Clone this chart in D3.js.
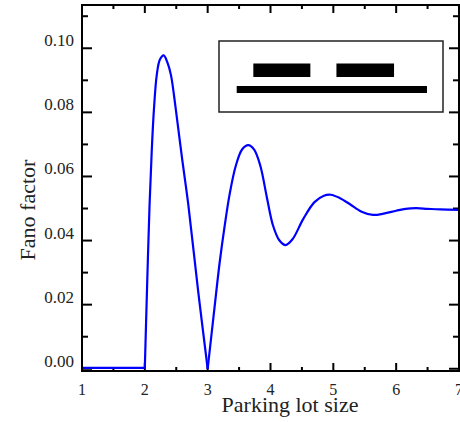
<!DOCTYPE html>
<html>
<head>
<meta charset="utf-8">
<script src="https://cdn.jsdelivr.net/npm/d3@7"></script>
<style>
  body { margin: 0; background: #fff; }
  text { font-family: "Liberation Serif", "Times New Roman", serif; fill: #222; }
</style>
</head>
<body>
<svg id="chart" width="460" height="422"></svg>
<script>
// values
var lotSize = [1, 1.5, 2.0,
    2.0, 2.035, 2.075, 2.11, 2.145, 2.19, 2.24, 2.30, 2.36, 2.415, 2.49, 2.59, 2.69, 2.85, 3.0,
    3.0, 3.1, 3.19, 3.27, 3.35, 3.45, 3.55, 3.645, 3.74, 3.84, 3.94, 4.04, 4.14, 4.24, 4.35,
    4.52, 4.7, 4.85, 4.96, 5.1, 5.26, 5.45, 5.63, 5.8, 6.0, 6.15, 6.32, 6.5, 6.7, 7.0];
var fano = [0.0003, 0.0003, 0.0003,
    0.0003, 0.025, 0.051, 0.068, 0.081, 0.0917, 0.0965, 0.0978, 0.0955, 0.0917, 0.0814, 0.066, 0.0515, 0.024, 0.0,
    0.0, 0.0175, 0.033, 0.0445, 0.0545, 0.0635, 0.0685, 0.0698, 0.0684, 0.0632, 0.0537, 0.0447, 0.0401, 0.0386, 0.0404,
    0.0467, 0.052, 0.054, 0.0543, 0.0533, 0.0514, 0.049, 0.048, 0.0484, 0.0493, 0.0499, 0.0501, 0.0499, 0.0497, 0.0496];
// the curve has kinks here, so each piece is drawn on its own
var pieceStarts = [0, 3, 18];
var pieceEnds = [3, 18, 48];

var xMajor = [1, 2, 3, 4, 5, 6, 7];
var xMinor = [1.5, 2.5, 3.5, 4.5, 5.5, 6.5];
var yMajor = [0, 0.02, 0.04, 0.06, 0.08, 0.10];
var yMinor = [0.01, 0.03, 0.05, 0.07, 0.09, 0.11];

// inset sketch: lot and two parked cars, in car lengths
var insetLot = [0, 3.32];
var insetCars = [[0.29, 1.285], [1.74, 2.745]];

function fanoChart() {
    var svg = d3.select("#chart");
    var left = 82, right = 459, top = 5, bottom = 371;

    var x = d3.scaleLinear().domain([1, 7]).range([left, right]);
    var y = d3.scaleLinear().domain([-0.0007, 0.1135]).range([bottom, top]);

    // ticks, all pointing inward on the four sides
    function xticks(vals, len) {
        var g = svg.append("g").attr("stroke", "#000").attr("stroke-width", 2);
        vals.forEach(function(v) {
            g.append("line").attr("x1", x(v)).attr("x2", x(v)).attr("y1", bottom).attr("y2", bottom - len);
            g.append("line").attr("x1", x(v)).attr("x2", x(v)).attr("y1", top).attr("y2", top + len);
        });
    }
    xticks(xMajor.slice(1, -1), 8);
    xticks(xMinor, 4);

    function yticks(vals, len) {
        var g = svg.append("g").attr("stroke", "#000").attr("stroke-width", 2);
        vals.forEach(function(v) {
            g.append("line").attr("x1", left).attr("x2", left + len).attr("y1", y(v)).attr("y2", y(v));
            g.append("line").attr("x1", right).attr("x2", right - len).attr("y1", y(v)).attr("y2", y(v));
        });
    }
    yticks(yMajor, 10);
    yticks(yMinor, 6);

    // curve
    var line = d3.line()
        .x(function(i) { return x(lotSize[i]); })
        .y(function(i) { return y(fano[i]); })
        .curve(d3.curveCatmullRom.alpha(0.5));

    pieceStarts.forEach(function(s, k) {
        svg.append("path")
            .datum(d3.range(s, pieceEnds[k]))
            .attr("fill", "none")
            .attr("stroke", "#0000ff")
            .attr("stroke-width", 2.2)
            .attr("stroke-linejoin", "round")
            .attr("d", line);
    });

    // frame
    svg.append("rect")
        .attr("x", left).attr("y", top)
        .attr("width", right - left).attr("height", bottom - top)
        .attr("fill", "none").attr("stroke", "#000").attr("stroke-width", 2);

    // tick labels
    svg.append("g").selectAll("text")
        .data(yMajor)
        .enter().append("text")
        .attr("x", 74)
        .attr("y", function(d) { return y(d) - 2; })
        .attr("text-anchor", "end")
        .style("font-size", "17px")
        .text(d3.format(".2f"));

    svg.append("g").selectAll("text")
        .data(xMajor)
        .enter().append("text")
        .attr("x", function(d) { return x(d); })
        .attr("y", 395)
        .attr("text-anchor", "middle")
        .style("font-size", "16px")
        .text(function(d) { return d; });

    // axis titles
    svg.append("text")
        .attr("x", 290).attr("y", 412)
        .attr("text-anchor", "middle")
        .style("font-size", "22px")
        .text("Parking lot size");

    svg.append("text")
        .attr("transform", "translate(35,210) rotate(-90)")
        .attr("text-anchor", "middle")
        .style("font-size", "22px")
        .text("Fano factor");

    // inset
    svg.append("rect")
        .attr("x", 219).attr("y", 41)
        .attr("width", 224).attr("height", 71)
        .attr("fill", "#fff").attr("stroke", "#222").attr("stroke-width", 1.5);

    var ix = d3.scaleLinear().domain(insetLot).range([236.7, 427]);

    svg.append("rect")
        .attr("x", ix(insetLot[0])).attr("y", 86)
        .attr("width", ix(insetLot[1]) - ix(insetLot[0])).attr("height", 7)
        .attr("fill", "#000");

    svg.append("g").selectAll("rect")
        .data(insetCars)
        .enter().append("rect")
        .attr("x", function(d) { return ix(d[0]); })
        .attr("y", 63.5)
        .attr("width", function(d) { return ix(d[1]) - ix(d[0]); })
        .attr("height", 13.5)
        .attr("fill", "#000");
}

fanoChart();
</script>
</body>
</html>
